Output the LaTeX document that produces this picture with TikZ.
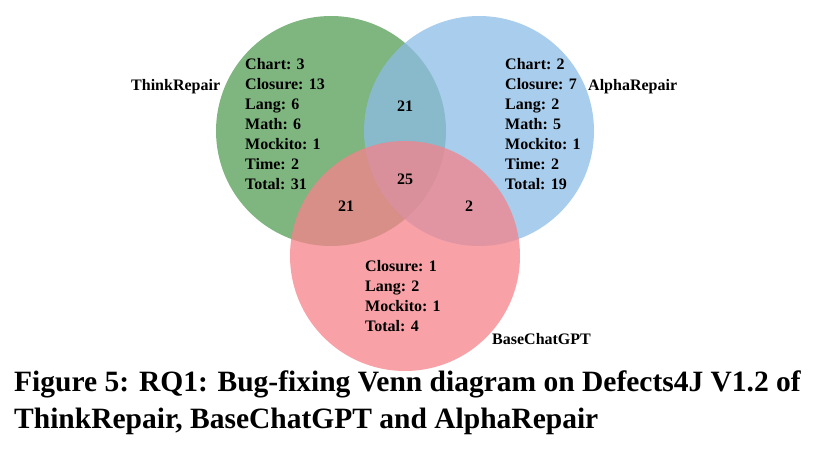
\documentclass[tikz,border=0pt]{standalone}
\usepackage{fontspec}
\setmainfont{Liberation Serif}
\begin{document}
\begin{tikzpicture}[x=1pt,y=-1pt,
  set/.style={circle,minimum size=230pt,inner sep=0pt,fill opacity=0.75},
  lab/.style={font=\fontsize{16}{20}\selectfont\bfseries,align=left,anchor=north west,inner sep=0pt},
  num/.style={font=\fontsize{16}{17}\selectfont\bfseries,inner sep=0pt}]
\useasboundingbox (0,0) rectangle (813,460);
\definecolor{cg}{RGB}{84,156,84}
\definecolor{cb}{RGB}{140,188,230}
\definecolor{cr}{RGB}{245,130,138}
\node[set,fill=cg] (g) at (331,131) {};
\node[set,fill=cb] (b) at (479,131) {};
\node[set,fill=cr] (r) at (405,256) {};
\node[lab] (gt) at (245,58) {Chart: 3\\Closure: 13\\Lang: 6\\Math: 6\\Mockito: 1\\Time: 2\\Total: 31};
\node[lab] (bt) at (505,58) {Chart: 2\\Closure: 7\\Lang: 2\\Math: 5\\Mockito: 1\\Time: 2\\Total: 19};
\node[lab] (rt) at (365,260) {Closure: 1\\Lang: 2\\Mockito: 1\\Total: 4};
\node[num] (n1) at (405,106) {21};
\node[num] (n2) at (405,179) {25};
\node[num] (n3) at (346,206) {21};
\node[num] (n4) at (469,206) {2};
\node[num,anchor=west] (l1) at (131,87) {ThinkRepair};
\node[num,anchor=west] (l2) at (588,87) {AlphaRepair};
\node[num,anchor=west] (l3) at (492,339) {BaseChatGPT};
\node[font=\fontsize{29.5}{37}\selectfont\bfseries,align=left,anchor=north west,inner sep=0pt] (cap) at (14,371)
 {Figure 5: RQ1: Bug-fixing Venn diagram on Defects4J V1.2 of\\ThinkRepair, BaseChatGPT and AlphaRepair};
\end{tikzpicture}
\end{document}
